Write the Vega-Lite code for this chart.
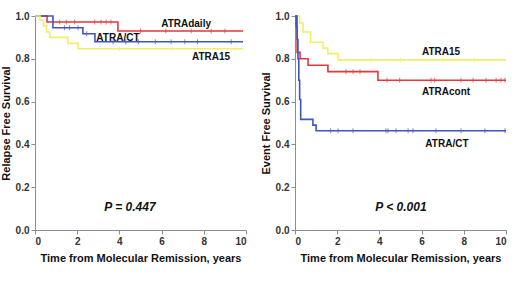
{
  "$schema": "https://vega.github.io/schema/vega-lite/v6.json",
  "background": "white",
  "padding": {"left": 0, "top": 11, "right": 5, "bottom": 5},
  "spacing": 13,
  "config": {
    "view": {"stroke": null},
    "font": "Liberation Sans",
    "axis": {
      "grid": false,
      "domainColor": "#8c8c8c",
      "tickColor": "#8c8c8c",
      "tickSize": 4,
      "labelFont": "Liberation Sans",
      "labelFontWeight": "bold",
      "labelFontSize": 10,
      "labelColor": "#333333",
      "titleFont": "Liberation Sans",
      "titleFontWeight": "bold",
      "titleFontSize": 11,
      "titleColor": "#111111"
    }
  },
  "datasets": {
    "rfs": [
      {"group": "ATRAdaily", "time": 0, "surv": 1.0},
      {"group": "ATRAdaily", "time": 0.57, "surv": 0.972},
      {"group": "ATRAdaily", "time": 3.93, "surv": 0.93},
      {"group": "ATRAdaily", "time": 9.86, "surv": 0.93},
      {"group": "ATRA/CT", "time": 0, "surv": 1.0},
      {"group": "ATRA/CT", "time": 0.85, "surv": 0.945},
      {"group": "ATRA/CT", "time": 2.27, "surv": 0.917},
      {"group": "ATRA/CT", "time": 2.84, "surv": 0.88},
      {"group": "ATRA/CT", "time": 9.86, "surv": 0.88},
      {"group": "ATRA15", "time": 0, "surv": 1.0},
      {"group": "ATRA15", "time": 0.24, "surv": 0.98},
      {"group": "ATRA15", "time": 0.4, "surv": 0.955},
      {"group": "ATRA15", "time": 0.55, "surv": 0.925},
      {"group": "ATRA15", "time": 0.7, "surv": 0.9},
      {"group": "ATRA15", "time": 1.56, "surv": 0.872},
      {"group": "ATRA15", "time": 2.04, "surv": 0.847},
      {"group": "ATRA15", "time": 9.86, "surv": 0.847}
    ],
    "rfsCens": [
      {"group": "ATRAdaily", "time": 1.17, "surv": 0.972},
      {"group": "ATRAdaily", "time": 1.48, "surv": 0.972},
      {"group": "ATRAdaily", "time": 1.88, "surv": 0.972},
      {"group": "ATRAdaily", "time": 2.83, "surv": 0.972},
      {"group": "ATRAdaily", "time": 3.13, "surv": 0.972},
      {"group": "ATRAdaily", "time": 3.37, "surv": 0.972},
      {"group": "ATRAdaily", "time": 3.6, "surv": 0.972},
      {"group": "ATRAdaily", "time": 5.0, "surv": 0.93},
      {"group": "ATRAdaily", "time": 6.2, "surv": 0.93},
      {"group": "ATRAdaily", "time": 7.4, "surv": 0.93},
      {"group": "ATRAdaily", "time": 8.35, "surv": 0.93},
      {"group": "ATRAdaily", "time": 9.0, "surv": 0.93},
      {"group": "ATRA/CT", "time": 1.4, "surv": 0.945},
      {"group": "ATRA/CT", "time": 1.64, "surv": 0.945},
      {"group": "ATRA/CT", "time": 2.04, "surv": 0.945},
      {"group": "ATRA/CT", "time": 2.45, "surv": 0.917},
      {"group": "ATRA/CT", "time": 3.7, "surv": 0.88},
      {"group": "ATRA/CT", "time": 4.3, "surv": 0.88},
      {"group": "ATRA/CT", "time": 4.9, "surv": 0.88},
      {"group": "ATRA/CT", "time": 5.7, "surv": 0.88},
      {"group": "ATRA/CT", "time": 6.45, "surv": 0.88},
      {"group": "ATRA/CT", "time": 7.1, "surv": 0.88},
      {"group": "ATRA/CT", "time": 7.7, "surv": 0.88},
      {"group": "ATRA/CT", "time": 9.3, "surv": 0.88},
      {"group": "ATRA15", "time": 4.0, "surv": 0.847},
      {"group": "ATRA15", "time": 6.5, "surv": 0.847},
      {"group": "ATRA15", "time": 9.5, "surv": 0.847}
    ],
    "efs": [
      {"group": "ATRA15", "time": 0, "surv": 1.0},
      {"group": "ATRA15", "time": 0.22, "surv": 0.967},
      {"group": "ATRA15", "time": 0.38, "surv": 0.925},
      {"group": "ATRA15", "time": 0.74, "surv": 0.877},
      {"group": "ATRA15", "time": 1.33, "surv": 0.85},
      {"group": "ATRA15", "time": 1.56, "surv": 0.824},
      {"group": "ATRA15", "time": 2.04, "surv": 0.795},
      {"group": "ATRA15", "time": 10.0, "surv": 0.795},
      {"group": "ATRAcont", "time": 0, "surv": 1.0},
      {"group": "ATRAcont", "time": 0.1, "surv": 0.83},
      {"group": "ATRAcont", "time": 0.24, "surv": 0.80},
      {"group": "ATRAcont", "time": 0.62, "surv": 0.77},
      {"group": "ATRAcont", "time": 1.56, "surv": 0.74},
      {"group": "ATRAcont", "time": 3.93, "surv": 0.70},
      {"group": "ATRAcont", "time": 10.0, "surv": 0.70},
      {"group": "ATRA/CT", "time": 0, "surv": 1.0},
      {"group": "ATRA/CT", "time": 0.06, "surv": 0.95},
      {"group": "ATRA/CT", "time": 0.1, "surv": 0.89},
      {"group": "ATRA/CT", "time": 0.14, "surv": 0.80},
      {"group": "ATRA/CT", "time": 0.18, "surv": 0.70},
      {"group": "ATRA/CT", "time": 0.22, "surv": 0.61},
      {"group": "ATRA/CT", "time": 0.27, "surv": 0.517},
      {"group": "ATRA/CT", "time": 0.85, "surv": 0.49},
      {"group": "ATRA/CT", "time": 1.0, "surv": 0.464},
      {"group": "ATRA/CT", "time": 10.0, "surv": 0.464}
    ],
    "efsCens": [
      {"group": "ATRA15", "time": 3.6, "surv": 0.795},
      {"group": "ATRA15", "time": 5.0, "surv": 0.795},
      {"group": "ATRA15", "time": 7.0, "surv": 0.795},
      {"group": "ATRA15", "time": 8.5, "surv": 0.795},
      {"group": "ATRAcont", "time": 2.42, "surv": 0.74},
      {"group": "ATRAcont", "time": 2.75, "surv": 0.74},
      {"group": "ATRAcont", "time": 3.08, "surv": 0.74},
      {"group": "ATRAcont", "time": 4.36, "surv": 0.70},
      {"group": "ATRAcont", "time": 4.96, "surv": 0.70},
      {"group": "ATRAcont", "time": 6.45, "surv": 0.70},
      {"group": "ATRAcont", "time": 6.62, "surv": 0.70},
      {"group": "ATRAcont", "time": 7.87, "surv": 0.70},
      {"group": "ATRAcont", "time": 8.44, "surv": 0.70},
      {"group": "ATRAcont", "time": 9.05, "surv": 0.70},
      {"group": "ATRAcont", "time": 9.53, "surv": 0.70},
      {"group": "ATRAcont", "time": 9.76, "surv": 0.70},
      {"group": "ATRAcont", "time": 9.95, "surv": 0.70},
      {"group": "ATRA/CT", "time": 1.69, "surv": 0.464},
      {"group": "ATRA/CT", "time": 2.04, "surv": 0.464},
      {"group": "ATRA/CT", "time": 2.75, "surv": 0.464},
      {"group": "ATRA/CT", "time": 4.31, "surv": 0.464},
      {"group": "ATRA/CT", "time": 4.41, "surv": 0.464},
      {"group": "ATRA/CT", "time": 4.79, "surv": 0.464},
      {"group": "ATRA/CT", "time": 5.36, "surv": 0.464},
      {"group": "ATRA/CT", "time": 5.59, "surv": 0.464},
      {"group": "ATRA/CT", "time": 6.68, "surv": 0.464},
      {"group": "ATRA/CT", "time": 7.87, "surv": 0.464},
      {"group": "ATRA/CT", "time": 9.0, "surv": 0.464},
      {"group": "ATRA/CT", "time": 9.95, "surv": 0.464}
    ],
    "rfsLabels": [
      {"label": "ATRAdaily", "time": 7.16, "surv": 0.963},
      {"label": "ATRA/CT", "time": 3.93, "surv": 0.897},
      {"label": "ATRA15", "time": 8.34, "surv": 0.808}
    ],
    "efsLabels": [
      {"label": "ATRA15", "time": 6.92, "surv": 0.832},
      {"label": "ATRAcont", "time": 7.16, "surv": 0.645},
      {"label": "ATRA/CT", "time": 7.2, "surv": 0.40}
    ],
    "rfsP": [{"label": "P = 0.447", "time": 4.5, "surv": 0.107}],
    "efsP": [{"label": "P < 0.001", "time": 5.02, "surv": 0.107}]
  },
  "hconcat": [
    {
      "width": 211,
      "height": 214,
      "layer": [
        {
          "data": {"name": "rfs"},
          "mark": {"type": "line", "interpolate": "step-after", "strokeWidth": 1.6},
          "encoding": {
            "x": {"field": "time", "type": "quantitative", "scale": {"domain": [0, 10], "nice": false}, "axis": {"values": [0, 2, 4, 6, 8, 10], "title": "Time from Molecular Remission, years", "titlePadding": 6}},
            "y": {"field": "surv", "type": "quantitative", "scale": {"domain": [0, 1], "nice": false}, "axis": {"values": [0, 0.2, 0.4, 0.6, 0.8, 1.0], "format": ".1f", "title": "Relapse Free Survival", "titlePadding": 4}},
            "color": {"field": "group", "type": "nominal", "scale": {"domain": ["ATRAdaily", "ATRAcont", "ATRA/CT", "ATRA15"], "range": ["#e0393e", "#e0393e", "#3f57b8", "#f2ee6a"]}, "legend": null}
          }
        },
        {
          "data": {"name": "rfsCens"},
          "mark": {"type": "tick", "orient": "vertical", "size": 5, "thickness": 1},
          "encoding": {
            "x": {"field": "time", "type": "quantitative"},
            "y": {"field": "surv", "type": "quantitative"},
            "color": {"field": "group", "type": "nominal", "legend": null}
          }
        },
        {
          "data": {"name": "rfsLabels"},
          "mark": {"type": "text", "font": "Liberation Sans", "fontWeight": "bold", "fontSize": 10, "color": "#111111"},
          "encoding": {
            "x": {"field": "time", "type": "quantitative"},
            "y": {"field": "surv", "type": "quantitative"},
            "text": {"field": "label"}
          }
        },
        {
          "data": {"name": "rfsP"},
          "mark": {"type": "text", "font": "Liberation Sans", "fontWeight": "bold", "fontStyle": "italic", "fontSize": 12, "color": "#111111"},
          "encoding": {
            "x": {"field": "time", "type": "quantitative"},
            "y": {"field": "surv", "type": "quantitative"},
            "text": {"field": "label"}
          }
        }
      ]
    },
    {
      "width": 211,
      "height": 214,
      "layer": [
        {
          "data": {"name": "efs"},
          "mark": {"type": "line", "interpolate": "step-after", "strokeWidth": 1.6},
          "encoding": {
            "x": {"field": "time", "type": "quantitative", "scale": {"domain": [0, 10], "nice": false}, "axis": {"values": [0, 2, 4, 6, 8, 10], "title": "Time from Molecular Remission, years", "titlePadding": 6}},
            "y": {"field": "surv", "type": "quantitative", "scale": {"domain": [0, 1], "nice": false}, "axis": {"values": [0, 0.2, 0.4, 0.6, 0.8, 1.0], "format": ".1f", "title": "Event Free Survival", "titlePadding": 4}},
            "color": {"field": "group", "type": "nominal", "scale": {"domain": ["ATRAdaily", "ATRAcont", "ATRA/CT", "ATRA15"], "range": ["#e0393e", "#e0393e", "#3f57b8", "#f2ee6a"]}, "legend": null}
          }
        },
        {
          "data": {"name": "efsCens"},
          "mark": {"type": "tick", "orient": "vertical", "size": 5, "thickness": 1},
          "encoding": {
            "x": {"field": "time", "type": "quantitative"},
            "y": {"field": "surv", "type": "quantitative"},
            "color": {"field": "group", "type": "nominal", "legend": null}
          }
        },
        {
          "data": {"name": "efsLabels"},
          "mark": {"type": "text", "font": "Liberation Sans", "fontWeight": "bold", "fontSize": 10, "color": "#111111"},
          "encoding": {
            "x": {"field": "time", "type": "quantitative"},
            "y": {"field": "surv", "type": "quantitative"},
            "text": {"field": "label"}
          }
        },
        {
          "data": {"name": "efsP"},
          "mark": {"type": "text", "font": "Liberation Sans", "fontWeight": "bold", "fontStyle": "italic", "fontSize": 12, "color": "#111111"},
          "encoding": {
            "x": {"field": "time", "type": "quantitative"},
            "y": {"field": "surv", "type": "quantitative"},
            "text": {"field": "label"}
          }
        }
      ]
    }
  ]
}
